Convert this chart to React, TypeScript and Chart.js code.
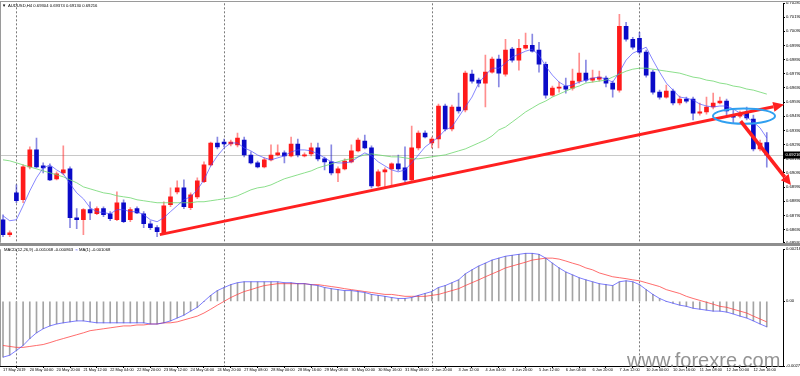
import React, { useEffect, useRef } from "react";
import { Chart, registerables } from "chart.js";
Chart.register(...registerables);

// ---------- DATA (AUDUSD, H4) ----------
const opens = [0.68759,0.68653,0.68949,0.68900,0.69132,0.69252,0.69139,0.69132,0.69048,0.69090,
0.69118,0.68773,0.68759,0.68830,0.68801,0.68837,0.68801,0.68759,0.68879,0.68759,
0.68837,0.68801,0.68731,0.68703,0.68667,0.68865,0.68956,0.68984,0.68844,0.68921,
0.69027,0.69146,0.69301,0.69308,0.69294,0.69287,0.69322,0.69216,0.69160,0.69132,
0.69182,0.69216,0.69231,0.69210,0.69294,0.69210,0.69224,0.69266,0.69189,0.69168,
0.69090,0.69118,0.69168,0.69245,0.69315,0.69266,0.68998,0.69097,0.69118,0.69153,
0.69125,0.69041,0.69266,0.69371,0.69301,0.69329,0.69562,0.69400,0.69555,0.69534,
0.69787,0.69745,0.69724,0.69801,0.69893,0.69787,0.69963,0.69886,0.69970,0.69991,
0.69956,0.69857,0.69639,0.69688,0.69702,0.69688,0.69738,0.69794,0.69745,0.69752,
0.69759,0.69724,0.69674,0.70125,0.70033,0.70040,0.69942,0.69801,0.69660,0.69625,
0.69667,0.69583,0.69611,0.69611,0.69512,0.69520,0.69555,0.69583,0.69597,0.69498,
0.69491,0.69512,0.69470,0.69259,0.69304];
const highs = [0.68794,0.68681,0.69005,0.69146,0.69273,0.69336,0.69160,0.69153,0.69097,0.69280,
0.69132,0.68837,0.68837,0.68886,0.68851,0.68851,0.68816,0.68956,0.68900,0.68844,
0.68851,0.68816,0.68752,0.68717,0.68886,0.68984,0.69034,0.69041,0.68949,0.69055,
0.69168,0.69308,0.69343,0.69329,0.69322,0.69371,0.69343,0.69238,0.69174,0.69196,
0.69287,0.69287,0.69245,0.69343,0.69329,0.69231,0.69301,0.69301,0.69202,0.69287,
0.69132,0.69189,0.69287,0.69336,0.69357,0.69280,0.69111,0.69125,0.69160,0.69216,
0.69273,0.69421,0.69386,0.69386,0.69343,0.69576,0.69576,0.69569,0.69653,0.69808,
0.69815,0.69759,0.69921,0.69907,0.69921,0.70033,0.69977,0.70033,0.70076,0.70069,
0.70012,0.69872,0.69702,0.69731,0.69759,0.69822,0.69935,0.69886,0.69815,0.69808,
0.69773,0.69738,0.70209,0.70153,0.70047,0.70083,0.69956,0.69815,0.69674,0.69710,
0.69681,0.69632,0.69625,0.69625,0.69583,0.69625,0.69653,0.69625,0.69611,0.69534,
0.69527,0.69555,0.69498,0.69322,0.69374];
const lows = [0.68639,0.68639,0.68879,0.68879,0.69118,0.69125,0.69090,0.69034,0.69041,0.69076,
0.68703,0.68696,0.68653,0.68759,0.68794,0.68780,0.68752,0.68752,0.68738,0.68745,
0.68801,0.68703,0.68689,0.68639,0.68653,0.68851,0.68942,0.68837,0.68830,0.68907,
0.69020,0.69139,0.69259,0.69273,0.69280,0.69273,0.69202,0.69153,0.69125,0.69125,
0.69174,0.69210,0.69160,0.69202,0.69202,0.69202,0.69210,0.69174,0.69111,0.69076,
0.69027,0.69111,0.69160,0.69238,0.69259,0.68984,0.68991,0.68991,0.69005,0.69104,
0.69027,0.69027,0.69252,0.69336,0.69266,0.69266,0.69386,0.69386,0.69512,0.69520,
0.69724,0.69696,0.69555,0.69794,0.69696,0.69773,0.69872,0.69815,0.69963,0.69942,
0.69801,0.69618,0.69632,0.69660,0.69653,0.69674,0.69724,0.69731,0.69731,0.69738,
0.69696,0.69625,0.69660,0.70019,0.69963,0.69928,0.69766,0.69646,0.69611,0.69618,
0.69569,0.69569,0.69583,0.69463,0.69498,0.69505,0.69541,0.69576,0.69498,0.69442,
0.69477,0.69463,0.69245,0.69245,0.69130];
const closes = [0.68653,0.68667,0.68893,0.69132,0.69252,0.69132,0.69125,0.69041,0.69083,0.69111,
0.68773,0.68759,0.68830,0.68808,0.68837,0.68794,0.68766,0.68879,0.68745,0.68830,
0.68808,0.68731,0.68703,0.68675,0.68858,0.68921,0.68984,0.68851,0.68935,0.69034,
0.69146,0.69301,0.69273,0.69294,0.69308,0.69336,0.69216,0.69160,0.69132,0.69182,
0.69216,0.69231,0.69210,0.69294,0.69216,0.69216,0.69266,0.69189,0.69168,0.69090,
0.69118,0.69174,0.69245,0.69322,0.69266,0.68998,0.69097,0.69111,0.69153,0.69118,
0.69041,0.69266,0.69371,0.69343,0.69329,0.69562,0.69400,0.69555,0.69527,0.69794,
0.69738,0.69724,0.69801,0.69893,0.69794,0.69956,0.69886,0.69970,0.69991,0.69949,
0.69857,0.69639,0.69688,0.69696,0.69681,0.69738,0.69794,0.69745,0.69759,0.69766,
0.69724,0.69681,0.70125,0.70033,0.69977,0.69942,0.69780,0.69660,0.69625,0.69667,
0.69583,0.69611,0.69597,0.69512,0.69520,0.69555,0.69583,0.69597,0.69527,0.69484,
0.69505,0.69477,0.69259,0.69301,0.69216];

// fast moving average (blue) and slow moving average (green)
const maFast = [0.68787,0.68752,0.68759,0.68858,0.68963,0.69055,0.69125,0.69146,0.69111,0.69083,
0.69013,0.68949,0.68907,0.68844,0.68816,0.68809,0.68801,0.68830,0.68830,0.68816,
0.68816,0.68794,0.68759,0.68745,0.68773,0.68816,0.68858,0.68900,0.68921,0.68970,
0.69041,0.69139,0.69210,0.69266,0.69301,0.69301,0.69266,0.69245,0.69216,0.69196,
0.69182,0.69196,0.69210,0.69238,0.69252,0.69252,0.69245,0.69224,0.69196,0.69168,
0.69160,0.69160,0.69168,0.69202,0.69231,0.69210,0.69168,0.69139,0.69111,0.69097,
0.69111,0.69160,0.69216,0.69273,0.69308,0.69343,0.69393,0.69414,0.69484,0.69555,
0.69625,0.69724,0.69780,0.69829,0.69829,0.69865,0.69907,0.69928,0.69949,0.69963,
0.69921,0.69843,0.69780,0.69731,0.69702,0.69710,0.69731,0.69745,0.69759,0.69766,
0.69752,0.69731,0.69801,0.69886,0.69935,0.69956,0.69977,0.69886,0.69801,0.69724,
0.69674,0.69625,0.69618,0.69604,0.69576,0.69562,0.69555,0.69562,0.69562,0.69541,
0.69512,0.69484,0.69449,0.69407,0.69336];
const maSlow = [0.69182,0.69175,0.69161,0.69146,0.69132,0.69118,0.69104,0.69090,0.69076,0.69062,
0.69041,0.69020,0.68991,0.68977,0.68963,0.68949,0.68942,0.68928,0.68921,0.68914,
0.68900,0.68893,0.68886,0.68879,0.68879,0.68879,0.68879,0.68879,0.68879,0.68886,
0.68886,0.68893,0.68900,0.68907,0.68914,0.68928,0.68949,0.68970,0.68984,0.68991,
0.69005,0.69027,0.69048,0.69062,0.69076,0.69090,0.69104,0.69125,0.69139,0.69153,
0.69168,0.69182,0.69189,0.69203,0.69217,0.69224,0.69217,0.69210,0.69203,0.69203,
0.69196,0.69189,0.69189,0.69196,0.69203,0.69210,0.69217,0.69231,0.69245,0.69259,
0.69280,0.69301,0.69322,0.69351,0.69393,0.69414,0.69449,0.69484,0.69520,0.69548,
0.69576,0.69597,0.69625,0.69646,0.69667,0.69688,0.69703,0.69724,0.69731,0.69738,
0.69745,0.69766,0.69787,0.69808,0.69822,0.69829,0.69829,0.69822,0.69815,0.69808,
0.69801,0.69794,0.69780,0.69766,0.69759,0.69745,0.69738,0.69724,0.69717,0.69703,
0.69696,0.69682,0.69674,0.69660,0.69646];

// MACD(12,26,9): main (histogram + blue line) and signal (red line)
const macdMain = [-0.00234,-0.00226,-0.00206,-0.00185,-0.00156,-0.00132,-0.00115,-0.00103,-0.00095,-0.00090,
-0.00086,-0.00082,-0.00082,-0.00086,-0.00090,-0.00090,-0.00090,-0.00090,-0.00090,-0.00090,
-0.00090,-0.00090,-0.00095,-0.00095,-0.00090,-0.00082,-0.00070,-0.00058,-0.00041,-0.00025,
0.00000,0.00025,0.00045,0.00058,0.00070,0.00078,0.00082,0.00082,0.00082,0.00082,
0.00082,0.00082,0.00078,0.00078,0.00074,0.00074,0.00070,0.00066,0.00058,0.00053,
0.00049,0.00045,0.00045,0.00041,0.00037,0.00029,0.00025,0.00021,0.00016,0.00012,
0.00012,0.00016,0.00025,0.00033,0.00041,0.00058,0.00066,0.00078,0.00090,0.00115,
0.00132,0.00148,0.00160,0.00173,0.00181,0.00189,0.00193,0.00197,0.00201,0.00201,
0.00197,0.00181,0.00160,0.00140,0.00123,0.00111,0.00099,0.00090,0.00082,0.00074,
0.00070,0.00066,0.00082,0.00086,0.00082,0.00070,0.00049,0.00029,0.00012,0.00000,
-0.00008,-0.00016,-0.00021,-0.00029,-0.00033,-0.00037,-0.00041,-0.00041,-0.00045,-0.00053,
-0.00062,-0.00070,-0.00082,-0.00095,-0.001068];
const macdSignal = [-0.00185,-0.00189,-0.00193,-0.00193,-0.00189,-0.00185,-0.00181,-0.00173,-0.00164,-0.00156,
-0.00148,-0.00140,-0.00132,-0.00123,-0.00119,-0.00115,-0.00111,-0.00107,-0.00103,-0.00103,
-0.00099,-0.00099,-0.00095,-0.00095,-0.00090,-0.00090,-0.00086,-0.00078,-0.00070,-0.00062,
-0.00049,-0.00033,-0.00016,0.00000,0.00016,0.00029,0.00041,0.00049,0.00058,0.00066,
0.00070,0.00074,0.00074,0.00074,0.00074,0.00074,0.00070,0.00070,0.00066,0.00062,
0.00058,0.00053,0.00049,0.00045,0.00041,0.00037,0.00033,0.00029,0.00029,0.00025,
0.00021,0.00021,0.00021,0.00021,0.00025,0.00029,0.00037,0.00045,0.00053,0.00066,
0.00078,0.00090,0.00103,0.00115,0.00127,0.00140,0.00148,0.00156,0.00164,0.00173,
0.00177,0.00181,0.00181,0.00177,0.00169,0.00160,0.00152,0.00140,0.00132,0.00119,
0.00111,0.00103,0.00099,0.00095,0.00090,0.00086,0.00078,0.00070,0.00062,0.00049,
0.00041,0.00033,0.00021,0.00012,0.00004,-0.00004,-0.00012,-0.00021,-0.00025,-0.00033,
-0.00041,-0.00049,-0.00062,-0.00074,-0.000863];

// time axis labels, one every 4 bars
const timeLabels = ["17 May 2019","20 May 04:00","20 May 20:00","21 May 12:00","22 May 04:00","22 May 20:00",
"23 May 12:00","24 May 04:00","24 May 20:00","27 May 08:00","28 May 00:00","28 May 16:00","29 May 08:00",
"30 May 00:00","30 May 16:00","31 May 08:00","2 Jun 20:00","3 Jun 12:00","4 Jun 04:00","4 Jun 20:00",
"5 Jun 12:00","6 Jun 04:00","6 Jun 20:00","7 Jun 12:00","10 Jun 00:00","10 Jun 16:00","11 Jun 08:00",
"12 Jun 00:00","12 Jun 16:00"];
const labelEvery = 4;
const weekStarts = [2, 33, 64, 95];

const priceMin = 0.68597;
const priceMax = 0.70287;
const priceTicks = [0.70287,0.70190,0.70090,0.69990,0.69890,0.69790,0.69690,0.69590,0.69490,0.69390,
0.69290,0.69190,0.69090,0.68990,0.68890,0.68790,0.68690,0.68597];
const macdMin = -0.00271;
const macdMax = 0.00218;
const macdTicks = [0.00218, 0, -0.00271];

// drawn objects (in bar index / price coordinates)
const trendLine = { x1: 23.4, y1: 0.68654, x2: 116.6, y2: 0.69572 };
const downArrow = { x1: 110.1, y1: 0.69456, x2: 117.6, y2: 0.69005 };
const ellipseMark = { cx: 110.6, cy: 0.69491, rx: 4.63, ry: 0.00054 };

const xMin = -0.448;
const xMax = 116.42;

// ---------- helpers ----------
const isUp = (i: number) => closes[i] >= opens[i];
const UP = "#ff1a1a";
const DOWN = "#0a0ac8";
const tickFont = { family: "'Liberation Sans', Arial, sans-serif", size: 4.2, lineHeight: 1.1 };

function drawArrow(ctx: CanvasRenderingContext2D, x1: number, y1: number, x2: number, y2: number,
  w: number, head: number, headW: number, color: string) {
  const a = Math.atan2(y2 - y1, x2 - x1);
  const bx = x2 - head * Math.cos(a), by = y2 - head * Math.sin(a);
  ctx.strokeStyle = color; ctx.lineWidth = w; ctx.lineCap = "butt";
  ctx.beginPath(); ctx.moveTo(x1, y1); ctx.lineTo(bx, by); ctx.stroke();
  ctx.fillStyle = color;
  ctx.beginPath(); ctx.moveTo(x2, y2);
  ctx.lineTo(bx + headW * Math.sin(a), by - headW * Math.cos(a));
  ctx.lineTo(bx - headW * Math.sin(a), by + headW * Math.cos(a));
  ctx.closePath(); ctx.fill();
}

function drawSeparators(chart: any) {
  const { ctx, chartArea: a, scales } = chart;
  ctx.save();
  ctx.setLineDash([2, 2]);
  ctx.strokeStyle = "#7a7a7a"; ctx.lineWidth = 1;
  weekStarts.forEach((i) => {
    const px = Math.round(scales.x.getPixelForValue(i)) + 0.5;
    ctx.beginPath(); ctx.moveTo(px, a.top); ctx.lineTo(px, a.bottom); ctx.stroke();
  });
  ctx.restore();
}

const mainDecor = {
  id: "mainDecor",
  beforeDatasetsDraw(chart: any) {
    const { ctx, chartArea: a, scales } = chart;
    ctx.save();
    const py = Math.round(scales.y.getPixelForValue(closes[closes.length - 1])) + 0.5;
    ctx.strokeStyle = "#c8c8c8"; ctx.lineWidth = 1;
    ctx.beginPath(); ctx.moveTo(a.left, py); ctx.lineTo(a.right, py); ctx.stroke();
    ctx.restore();
    drawSeparators(chart);
  },
  afterDatasetsDraw(chart: any) {
    const { ctx, scales } = chart;
    const X = (v: number) => scales.x.getPixelForValue(v);
    const Y = (v: number) => scales.y.getPixelForValue(v);
    ctx.save();
    drawArrow(ctx, X(trendLine.x1), Y(trendLine.y1), X(trendLine.x2), Y(trendLine.y2), 3, 11, 5, "#ff2020");
    const cx = X(ellipseMark.cx), cy = Y(ellipseMark.cy);
    const rx = Math.abs(X(ellipseMark.cx + ellipseMark.rx) - cx);
    const ry = Math.abs(Y(ellipseMark.cy + ellipseMark.ry) - cy);
    ctx.strokeStyle = "#2f9ff0"; ctx.lineWidth = 2;
    ctx.beginPath(); ctx.ellipse(cx, cy, rx, ry, 0, 0, Math.PI * 2); ctx.stroke();
    drawArrow(ctx, X(downArrow.x1), Y(downArrow.y1), X(downArrow.x2), Y(downArrow.y2), 3.6, 10, 5, "#ff2020");
    ctx.restore();
  },
  afterDraw(chart: any) {
    const { ctx, chartArea: a, scales, width } = chart;
    ctx.save();
    ctx.strokeStyle = "#9a9a9a"; ctx.lineWidth = 1;
    ctx.beginPath(); ctx.moveTo(0, 1.5); ctx.lineTo(width, 1.5); ctx.stroke();
    ctx.beginPath(); ctx.moveTo(0.5, 1.5); ctx.lineTo(0.5, a.bottom); ctx.stroke();
    const last = closes[closes.length - 1];
    const py = scales.y.getPixelForValue(last);
    ctx.fillStyle = "#000";
    ctx.fillRect(a.right + 1, py - 3.5, width - a.right - 1, 7);
    ctx.fillStyle = "#fff";
    ctx.font = "4.2px 'Liberation Sans', Arial, sans-serif";
    ctx.textBaseline = "middle"; ctx.textAlign = "left";
    ctx.fillText(last.toFixed(5), a.right + 2.5, py);
    ctx.restore();
  },
};

const macdDecor = {
  id: "macdDecor",
  beforeDatasetsDraw(chart: any) { drawSeparators(chart); },
  afterDraw(chart: any) {
    const { ctx, chartArea: a } = chart;
    ctx.save();
    ctx.strokeStyle = "#9a9a9a"; ctx.lineWidth = 1;
    ctx.beginPath(); ctx.moveTo(0.5, a.top); ctx.lineTo(0.5, a.bottom); ctx.stroke();
    ctx.restore();
  },
};

const barIdx = closes.map((_, i) => i);
const timeTickValues = timeLabels.map((_, k) => k * labelEvery);

export default function App() {
  const mainRef = useRef<HTMLCanvasElement>(null);
  const macdRef = useRef<HTMLCanvasElement>(null);

  useEffect(() => {
    const main = new Chart(mainRef.current as HTMLCanvasElement, {
      type: "bar",
      data: {
        datasets: [
          {
            type: "line", label: "MA fast",
            data: barIdx.map((i) => ({ x: i, y: maFast[i] })),
            borderColor: "rgba(70,70,255,0.65)", borderWidth: 1, pointRadius: 0, order: 0,
          } as any,
          {
            type: "line", label: "MA slow",
            data: barIdx.map((i) => ({ x: i, y: maSlow[i] })),
            borderColor: "rgba(110,215,110,0.8)", borderWidth: 1, pointRadius: 0, order: 0,
          } as any,
          {
            type: "bar", label: "bodies",
            data: barIdx.map((i) => ({ x: i, y: [opens[i], closes[i]] })),
            backgroundColor: barIdx.map((i) => (isUp(i) ? UP : DOWN)),
            barThickness: 4, grouped: false, minBarLength: 1, borderWidth: 0, order: 1,
          } as any,
          {
            type: "bar", label: "wicks",
            data: barIdx.map((i) => ({ x: i, y: [lows[i], highs[i]] })),
            backgroundColor: barIdx.map((i) => (isUp(i) ? "rgba(255,30,30,0.5)" : "rgba(20,20,200,0.5)")),
            barThickness: 1, grouped: false, borderWidth: 0, order: 2,
          } as any,
        ],
      },
      options: {
        responsive: false, animation: false,
        layout: { padding: { top: 3, bottom: 3, left: 0, right: 0 } },
        plugins: { legend: { display: false }, tooltip: { enabled: false } },
        scales: {
          x: { type: "linear", min: xMin, max: xMax, display: false, offset: false },
          y: {
            type: "linear", position: "right", min: priceMin, max: priceMax,
            afterFit: (s: any) => { s.width = 17; },
            afterBuildTicks: (s: any) => { s.ticks = priceTicks.map((v) => ({ value: v })); },
            ticks: { font: tickFont, color: "#000", padding: 1, callback: (v: any) => Number(v).toFixed(5) },
            grid: { drawOnChartArea: false, drawTicks: true, tickLength: 2, color: "#000" },
            border: { display: true, color: "#000" },
          },
        },
      },
      plugins: [mainDecor],
    } as any);

    const macd = new Chart(macdRef.current as HTMLCanvasElement, {
      type: "bar",
      data: {
        datasets: [
          {
            type: "line", label: "MA(1)",
            data: barIdx.map((i) => ({ x: i, y: macdMain[i] })),
            borderColor: "rgba(70,70,255,0.7)", borderWidth: 1, pointRadius: 0, order: 0,
          } as any,
          {
            type: "line", label: "Signal",
            data: barIdx.map((i) => ({ x: i, y: macdSignal[i] })),
            borderColor: "rgba(255,60,60,0.75)", borderWidth: 1, pointRadius: 0, order: 1,
          } as any,
          {
            type: "bar", label: "MACD",
            data: barIdx.map((i) => ({ x: i, y: macdMain[i] })),
            backgroundColor: "#a4a4a4", barThickness: 1, borderWidth: 0, order: 2,
          } as any,
        ],
      },
      options: {
        responsive: false, animation: false,
        layout: { padding: { top: 1, bottom: 0, left: 0, right: 0 } },
        plugins: { legend: { display: false }, tooltip: { enabled: false } },
        scales: {
          x: {
            type: "linear", min: xMin, max: xMax, offset: false, position: "bottom",
            afterFit: (s: any) => { s.height = 10; },
            afterBuildTicks: (s: any) => { s.ticks = timeTickValues.map((v) => ({ value: v })); },
            ticks: {
              font: { ...tickFont, size: 3.9 }, color: "#000", padding: 0, align: "start",
              maxRotation: 0, autoSkip: false,
              callback: (v: any) => timeLabels[Math.round(Number(v) / labelEvery)] ?? "",
            },
            grid: { drawOnChartArea: false, drawTicks: true, tickLength: 2, color: "#000" },
            border: { display: true, color: "#000" },
          },
          y: {
            type: "linear", position: "right", min: macdMin, max: macdMax,
            afterFit: (s: any) => { s.width = 17; },
            afterBuildTicks: (s: any) => { s.ticks = macdTicks.map((v) => ({ value: v })); },
            ticks: {
              font: tickFont, color: "#000", padding: 1,
              callback: (v: any) => (Number(v) === 0 ? "0.00" : Number(v).toFixed(5)),
            },
            grid: { drawOnChartArea: false, drawTicks: true, tickLength: 2, color: "#000" },
            border: { display: true, color: "#000" },
          },
        },
      },
      plugins: [macdDecor],
    } as any);

    return () => { main.destroy(); macd.destroy(); };
  }, []);

  const small = {
    position: "absolute" as const,
    fontFamily: "'Liberation Sans', Arial, sans-serif",
    fontSize: "8.4px",
    lineHeight: "10px",
    color: "#000",
    whiteSpace: "nowrap" as const,
    transform: "scale(0.5)",
    transformOrigin: "0 0",
  };

  return (
    <div style={{ position: "fixed", left: 0, top: 0, width: 800, height: 376, background: "#fff", overflow: "hidden" }}>
      <canvas ref={mainRef} width={800} height={246} style={{ position: "absolute", left: 0, top: 0 }} />
      <canvas ref={macdRef} width={800} height={130} style={{ position: "absolute", left: 0, top: 246 }} />
      <div style={{ position: "absolute", left: 0, top: 243, width: 800, height: 3, background: "#8e8e8e" }} />
      <div style={{ ...small, left: 2, top: 2.5 }}>▼</div>
      <div style={{ ...small, left: 8, top: 2.5 }}>AUDUSD,H4 0.69304 0.69374 0.69130 0.69216</div>
      <div style={{ ...small, left: 4, top: 247 }}>MACD(12,26,9) -0.001068 -0.000863 &nbsp;<span style={{ color: "#4a4aff" }}>≈</span> MA(1) -0.001068</div>
      <div style={{
        position: "absolute", left: 627, top: 350, fontFamily: "'Liberation Sans', Arial, sans-serif",
        fontSize: "20px", lineHeight: "20px", color: "rgba(128,128,128,0.85)", whiteSpace: "nowrap",
      }}>www.forexre.com</div>
    </div>
  );
}
